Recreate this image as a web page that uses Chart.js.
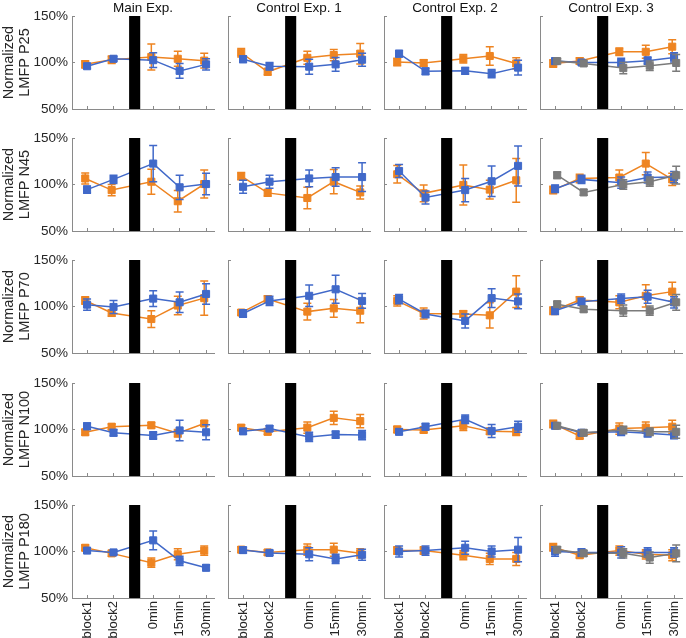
<!DOCTYPE html>
<html>
<head>
<meta charset="utf-8">
<script src="https://cdn.jsdelivr.net/npm/chart.js@4.4.1/dist/chart.umd.min.js"></script>
<style>
    html, body { margin: 0; padding: 0; background: #fff; }
    #fig { position: relative; width: 686px; height: 638px; overflow: hidden; }
    #fig canvas { position: absolute; }
</style>
</head>
<body>
<div id="fig"></div>
<script>
// categories and layout of the x axis (MATLAB-like positions, gap for the stimulation bar)
const xLabels = ['block1', 'block2', '0min', '15min', '30min'];
const xPos = [1, 2, 3.5, 4.5, 5.5];
const stimBar = [2.59, 3.01];
const expTitles = ['Main Exp.', 'Control Exp. 1', 'Control Exp. 2', 'Control Exp. 3'];
const components = ['P25', 'N45', 'P70', 'N100', 'P180'];
const yTicks = [50, 100, 150];

// mean values (%) per experiment [Main, Ctrl1, Ctrl2, Ctrl3]; gray only exists in Ctrl3
const p25Orange = [[98, 103, 106, 104, 102], [110.5, 90, 105, 108, 109.5], [100.5, 99.5, 104, 107, 99], [99, 101.5, 111.5, 111.5, 117]];
const p25OrangeErr = [[4, 4, 14, 8, 8], [4.5, 3.5, 7, 6, 11], [4, 3.5, 4.5, 10, 6], [4, 3.5, 4, 7, 7.5]];
const p25Blue = [[96, 104, 102.5, 91, 98], [103.5, 96, 95.5, 98, 103], [109.5, 90.5, 91, 88, 94.5], [101.5, 100, 100, 102, 105.5]];
const p25BlueErr = [[2.5, 2.5, 8, 8, 6], [3.5, 4, 8, 7.5, 7], [3.5, 3.5, 3.5, 4.5, 8], [3, 2, 4.5, 4, 5]];
const p25Gray = [101.5, 99, 94, 96.5, 99.5];
const p25GrayErr = [2.5, 2.5, 6, 5, 9];

const n45Orange = [[106.5, 94, 103, 82, 100.5], [109, 91, 85.5, 103, 91.5], [111, 90.5, 99.5, 94.5, 104.5], [94, 106.5, 107.5, 122.5, 105.5]];
const n45OrangeErr = [[6, 6, 13.5, 11.5, 15], [4, 3.5, 11.5, 13, 7], [9.5, 9, 21.5, 10, 23.5], [4, 4.5, 8, 12, 6.5]];
const n45Blue = [[94.5, 105.5, 122.5, 97, 100.5], [97.5, 103, 106.5, 108, 108], [114.5, 86, 94, 103.5, 120], [95.5, 105.5, 102, 107.5, 108]];
const n45BlueErr = [[4, 4.5, 19.5, 13, 11.5], [7, 7, 9, 10, 15.5], [7, 7, 12.5, 16.5, 21.5], [4, 4.5, 6, 6, 6]];
const n45Gray = [110, 91.5, 100, 103, 110];
const n45GrayErr = [3.5, 3, 5, 5, 9.5];

const p70Orange = [[106.5, 93, 86.5, 101, 109], [93.5, 108, 94.5, 98, 95.5], [106, 92.5, 92, 90.5, 116], [95.5, 107, 104.5, 111.5, 116]];
const p70OrangeErr = [[4, 3.5, 9, 10, 18.5], [3, 3.5, 9, 9.5, 13], [5.5, 6, 3.5, 13.5, 17], [4, 3.5, 7, 12, 10]];
const p70Blue = [[102, 99.5, 108.5, 104.5, 113.5], [92.5, 106, 111.5, 118.5, 106], [108, 92, 84.5, 109, 105.5], [95.5, 105, 108.5, 110.5, 104.5]];
const p70BlueErr = [[6, 7, 8.5, 11, 11], [4, 5, 11.5, 15, 8], [5, 4, 7.5, 10, 8], [4, 4, 5, 7, 6]];
const p70Gray = [102.5, 97, 95.5, 95.5, 104.5];
const p70GrayErr = [3, 3, 6, 5, 8.5];

const n100Orange = [[97, 103, 104.5, 96, 106.5], [102, 97.5, 102, 112.5, 109], [100, 99.5, 104, 98, 97.5], [106, 93, 101, 102, 103]];
const n100OrangeErr = [[3, 3, 3, 4, 3], [3, 3, 6, 7, 7], [3.5, 3, 5, 3, 4], [4, 3, 6, 6, 7]];
const n100Blue = [[103.5, 96.5, 93.5, 99, 97], [98, 101, 92, 94.5, 94], [97.5, 103, 111, 98.5, 103], [104, 96.5, 97.5, 96, 94]];
const n100BlueErr = [[3.5, 3.5, 4, 11, 8], [3, 3, 5, 4, 5], [3, 3.5, 4.5, 7, 6], [3, 2.5, 4, 4, 4]];
const n100Gray = [104, 96.5, 99.5, 97.5, 97.5];
const n100GrayErr = [2.5, 3, 4, 4, 7];

const p180Orange = [[104, 98, 88, 97, 101], [102, 99, 102, 102, 98], [101, 101, 96, 92, 92], [104.5, 96, 101, 97, 96]];
const p180OrangeErr = [[3, 3, 5, 6, 5], [3, 3, 6, 7, 5], [4, 4, 5, 6, 7], [4, 3, 5, 5, 6]];
const p180Blue = [[101, 99, 112, 90, 82.5], [101.5, 98.5, 97, 92, 96.5], [100, 101, 104, 100, 102], [100, 99, 99, 99, 99]];
const p180BlueErr = [[2.5, 2, 10, 5, 3], [3, 2.5, 7, 5, 6], [6, 5, 7, 6, 13], [5, 4, 6, 5, 5]];
const p180Gray = [102, 98, 98, 93.5, 98];
const p180GrayErr = [3, 3, 5, 6, 9];

const means = {
    P25: { orange: p25Orange, blue: p25Blue, gray: p25Gray },
    N45: { orange: n45Orange, blue: n45Blue, gray: n45Gray },
    P70: { orange: p70Orange, blue: p70Blue, gray: p70Gray },
    N100: { orange: n100Orange, blue: n100Blue, gray: n100Gray },
    P180: { orange: p180Orange, blue: p180Blue, gray: p180Gray }
};
const errs = {
    P25: { orange: p25OrangeErr, blue: p25BlueErr, gray: p25GrayErr },
    N45: { orange: n45OrangeErr, blue: n45BlueErr, gray: n45GrayErr },
    P70: { orange: p70OrangeErr, blue: p70BlueErr, gray: p70GrayErr },
    N100: { orange: n100OrangeErr, blue: n100BlueErr, gray: n100GrayErr },
    P180: { orange: p180OrangeErr, blue: p180BlueErr, gray: p180GrayErr }
};

const seriesStyle = [
    { key: 'orange', color: '#EE8421', dx: -0.07, order: 3 },
    { key: 'blue', color: '#4169C9', dx: 0, order: 2 },
    { key: 'gray', color: '#7B7B7B', dx: 0.08, order: 1 }
];

const AXIS = '#8a8a8a';
const TEXT = '#262626';
Chart.defaults.font.family = '"Liberation Sans", Arial, sans-serif';

// error bars, stimulation bar and column titles
const panelDeco = {
    id: 'panelDeco',
    beforeDatasetDraw(chart, args) {
        const ds = chart.data.datasets[args.index];
        const ys = chart.scales.y;
        const ctx = chart.ctx;
        ctx.save();
        ctx.strokeStyle = ds.borderColor;
        ctx.lineWidth = 1.5;
        args.meta.data.forEach((pt, i) => {
            const v = ds.data[i].y, e = ds.errors[i];
            const y1 = ys.getPixelForValue(v + e), y2 = ys.getPixelForValue(v - e);
            ctx.beginPath();
            ctx.moveTo(pt.x, y1); ctx.lineTo(pt.x, y2);
            ctx.moveTo(pt.x - 4, y1); ctx.lineTo(pt.x + 4, y1);
            ctx.moveTo(pt.x - 4, y2); ctx.lineTo(pt.x + 4, y2);
            ctx.stroke();
        });
        ctx.restore();
    },
    afterDatasetsDraw(chart, args, opts) {
        const ctx = chart.ctx, area = chart.chartArea, xs = chart.scales.x;
        const x0 = xs.getPixelForValue(opts.bar[0]), x1 = xs.getPixelForValue(opts.bar[1]);
        ctx.save();
        ctx.fillStyle = '#000';
        ctx.fillRect(x0, area.top, x1 - x0, area.bottom - area.top);
        if (opts.title) {
            ctx.font = '13.5px "Liberation Sans", Arial, sans-serif';
            ctx.fillStyle = '#111';
            ctx.textAlign = 'center';
            ctx.textBaseline = 'middle';
            ctx.fillText(opts.title, (area.left + area.right) / 2, 8);
        }
        ctx.restore();
    }
};

const fig = document.getElementById('fig');
const rowTops = [16, 138, 260, 383, 505];
const PW = 142, PH = 93;

components.forEach((comp, r) => {
    expTitles.forEach((title, c) => {
        const L = 72 + 156 * c, T = rowTops[r];
        const cLeft = c === 0 ? 0 : L - 10;
        const cRight = c === 3 ? 686 : L + PW + 6;
        const cTop = r === 0 ? 0 : T - 10;
        const cBottom = r === 4 ? 638 : T + PH + 8;

        const canvas = document.createElement('canvas');
        canvas.width = cRight - cLeft;
        canvas.height = cBottom - cTop;
        canvas.style.left = cLeft + 'px';
        canvas.style.top = cTop + 'px';
        fig.appendChild(canvas);

        const datasets = seriesStyle
            .filter(s => s.key !== 'gray' || c === 3)
            .map(s => {
                const m = s.key === 'gray' ? means[comp].gray : means[comp][s.key][c];
                const e = s.key === 'gray' ? errs[comp].gray : errs[comp][s.key][c];
                return {
                    data: m.map((v, i) => ({ x: xPos[i] + s.dx, y: v })),
                    errors: e,
                    borderColor: s.color,
                    backgroundColor: s.color,
                    borderWidth: 1.5,
                    pointStyle: 'rect',
                    pointRadius: 5,
                    pointBorderWidth: 1,
                    tension: 0,
                    order: s.order
                };
            });

        new Chart(canvas.getContext('2d'), {
            type: 'line',
            data: { datasets: datasets },
            plugins: [panelDeco],
            options: {
                responsive: false,
                animation: false,
                events: [],
                layout: {
                    autoPadding: false,
                    padding: { top: T - cTop, right: cRight - (L + PW), left: 0, bottom: 0 }
                },
                plugins: {
                    legend: { display: false },
                    tooltip: { enabled: false },
                    panelDeco: { bar: stimBar, title: r === 0 ? title : null }
                },
                scales: {
                    x: {
                        type: 'linear',
                        min: 0.43,
                        max: 5.8,
                        afterBuildTicks: axis => { axis.ticks = xPos.map(v => ({ value: v })); },
                        afterFit: axis => {
                            axis.height = cBottom - (T + PH);
                            axis.paddingLeft = 0;
                            axis.paddingRight = 0;
                        },
                        grid: { drawOnChartArea: false, tickLength: -3, color: AXIS },
                        border: { color: AXIS, width: 1 },
                        ticks: {
                            display: r === 4,
                            autoSkip: false,
                            minRotation: 90,
                            maxRotation: 90,
                            padding: 6,
                            color: TEXT,
                            font: { size: 13 },
                            callback: (v, i) => xLabels[i]
                        }
                    },
                    y: {
                        min: 50,
                        max: 150,
                        afterBuildTicks: axis => { axis.ticks = yTicks.map(v => ({ value: v })); },
                        afterFit: axis => {
                            axis.width = L - cLeft;
                            axis.paddingTop = 0;
                            axis.paddingBottom = 0;
                        },
                        grid: { drawOnChartArea: false, tickLength: -3, color: AXIS },
                        border: { color: AXIS, width: 1 },
                        ticks: {
                            display: c === 0,
                            padding: 7,
                            color: TEXT,
                            font: { size: 13.5 },
                            callback: v => v + '%'
                        },
                        title: {
                            display: c === 0,
                            text: ['Normalized', 'LMFP ' + comp],
                            color: TEXT,
                            font: { size: 14.5, lineHeight: 1.1 },
                            padding: { top: 1, bottom: 0 }
                        }
                    }
                }
            }
        });
    });
});
</script>
</body>
</html>
